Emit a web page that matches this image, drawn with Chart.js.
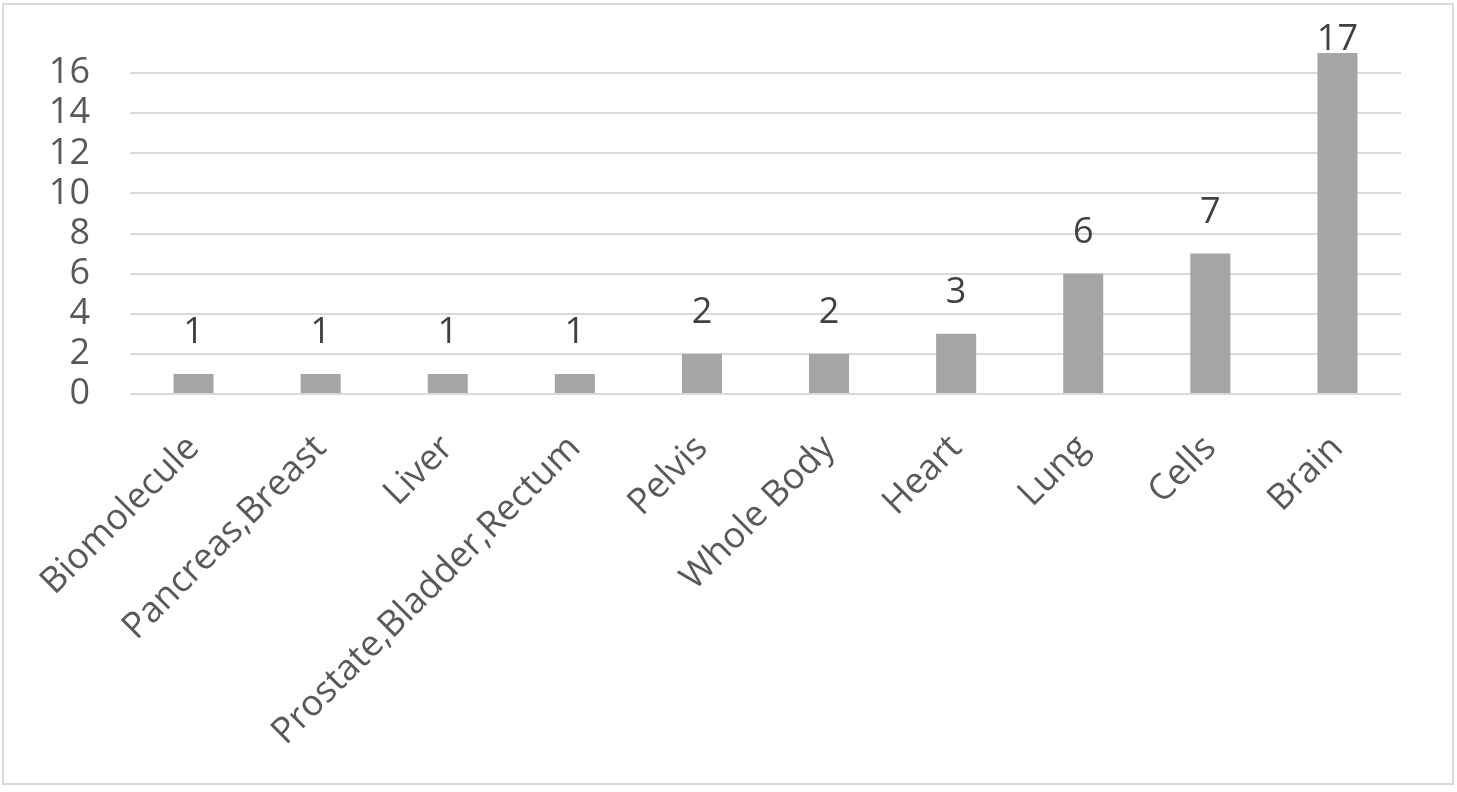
<!DOCTYPE html>
<html>
<head>
<meta charset="utf-8">
<script src="https://cdn.jsdelivr.net/npm/chart.js@4"></script>
<style>
  html, body { margin: 0; padding: 0; background: #ffffff; }
  #wrap { position: relative; width: 1457px; height: 792px; }
  #frame { position: absolute; left: 2px; top: 3px; width: 1448px; height: 778px; border: 2px solid #d9d9d9; pointer-events: none; }
  canvas { position: absolute; left: 0; top: 0; }
</style>
</head>
<body>
<div id="wrap">
  <canvas id="c" width="1457" height="792"></canvas>
  <div id="frame"></div>
</div>
<script>
const categories = ["Biomolecule", "Pancreas,Breast", "Liver", "Prostate,Bladder,Rectum", "Pelvis", "Whole Body", "Heart", "Lung", "Cells", "Brain"];
const counts = [1, 1, 1, 1, 2, 2, 3, 6, 7, 17];
const yTickValues = [0, 2, 4, 6, 8, 10, 12, 14, 16];

const FONT = "'Open Sans', 'DejaVu Sans', sans-serif";

const dataLabels = {
  id: 'dataLabels',
  afterDatasetsDraw(chart) {
    const ctx = chart.ctx;
    ctx.save();
    ctx.font = "36px " + FONT;
    ctx.fillStyle = '#404040';
    ctx.textAlign = 'center';
    ctx.textBaseline = 'alphabetic';
    chart.getDatasetMeta(0).data.forEach((el, i) => {
      const v = chart.data.datasets[0].data[i];
      const y = Math.max(el.y - 31, 50);
      ctx.fillText(String(v), el.x, y);
    });
    ctx.restore();
  }
};

new Chart(document.getElementById('c'), {
  type: 'bar',
  data: {
    labels: categories,
    datasets: [{
      data: counts,
      backgroundColor: '#a5a5a5',
      borderWidth: 0,
      barPercentage: 1,
      categoryPercentage: 0.315
    }]
  },
  options: {
    responsive: false,
    animation: false,
    devicePixelRatio: 1,
    layout: { padding: { top: 53, right: 56, left: 0, bottom: 0 } },
    plugins: { legend: { display: false }, tooltip: { enabled: false } },
    scales: {
      x: {
        grid: { display: false },
        border: { display: false },
        ticks: {
          autoSkip: false,
          minRotation: 45,
          maxRotation: 45,
          padding: 25,
          color: '#595959',
          font: { family: FONT, size: 36 }
        },
        afterFit(scale) { scale.height = 398; scale.paddingTop = 0; scale.paddingBottom = 0; scale.paddingLeft = 0; scale.paddingRight = 0; }
      },
      y: {
        min: 0,
        max: 17,
        border: { display: false },
        grid: { color: '#d9d9d9', lineWidth: 2, drawTicks: false },
        afterBuildTicks(scale) { scale.ticks = yTickValues.map(v => ({ value: v })); },
        ticks: {
          autoSkip: false,
          padding: 40,
          color: '#595959',
          font: { family: FONT, size: 36 }
        },
        afterFit(scale) { scale.width = 130; scale.paddingTop = 0; scale.paddingBottom = 0; }
      }
    }
  },
  plugins: [dataLabels]
});
</script>
</body>
</html>
